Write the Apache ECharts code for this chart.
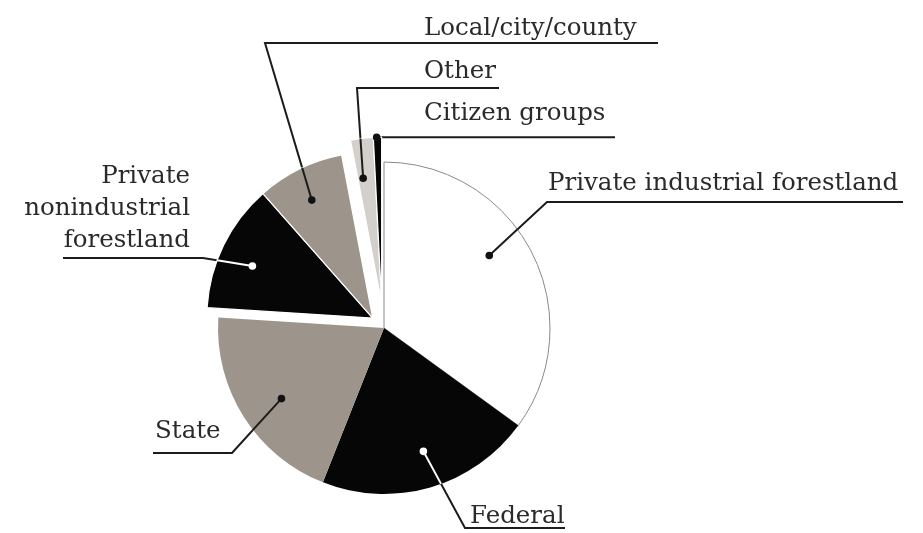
<!DOCTYPE html>
<html>
<head>
<meta charset="utf-8">
<script src="https://cdn.jsdelivr.net/npm/echarts@6/dist/echarts.min.js"></script>
<style>
  html, body { margin: 0; padding: 0; background: #ffffff; }
  #chart { width: 923px; height: 533px; }
</style>
</head>
<body>
<div id="chart"></div>
<script>
// Ownership shares (percent), listed clockwise from 12 o'clock
const categories = [
  'Private industrial forestland',
  'Federal',
  'State',
  'Private nonindustrial forestland',
  'Local/city/county',
  'Other',
  'Citizen groups'
];
const shares = [35, 21, 20, 12.5, 8.5, 2.2, 0.8];
const labelTexts = [
  'Private industrial forestland',
  'Federal',
  'State',
  'Private\nnonindustrial\nforestland',
  'Local/city/county',
  'Other',
  'Citizen groups'
];

// ---- styling ----
const sliceColors = ['#ffffff', '#060606', '#9d958b', '#060606', '#9d958b', '#d3cfca', '#060606'];
const darkSlice   = [false, true, false, true, false, false, false];   // leader starts with a white dot
const explodeGroup = [0, 0, 0, 1, 1, 2, 2];   // slices pulled out together
const groupOffset  = [0, 15, 25];             // px pulled out along the group's mid-angle

const CX = 384, CY = 328, R = 166;
const FONT = 'DejaVu Serif';
const FONT_SIZE = 24.5;
const INK = '#1c1c1c';

// leader dot inside each slice: [fraction of the slice's sweep, fraction of radius]
const dotPlace = [[0.44, 0.77], [0.48, 0.78], [0.47, 0.75], [0.44, 0.79], [0.46, 0.80], [0.30, 0.76], [0.40, 1.0]];
// text anchor: [x, y (middle), align]
const labelPlace = [
  [548, 184, 'left'],
  [470, 517, 'left'],
  [155, 432, 'left'],
  [190, 209, 'right'],
  [424, 29, 'left'],
  [424, 72, 'left'],
  [424, 114, 'left']
];
// leader path after the dot (null keeps the previous coordinate)
const leaderPath = [
  [[547, 202], [903, 202]],
  [[465, 528], [565, 528]],
  [[232, 453], [153, 453]],
  [[203, 258], [63, 258]],
  [[265, 43], [658, 43]],
  [[357, 88], [499, 88]],
  [[615, null]]
];

// ---- geometry derived from the shares ----
const total = shares.reduce((a, b) => a + b, 0);
const startDeg = [], endDeg = [];
let acc = 0;
shares.forEach(v => { startDeg.push(acc / total * 360); acc += v; endDeg.push(acc / total * 360); });

function polar(c, r, deg) {
  const a = deg * Math.PI / 180;
  return [c[0] + r * Math.sin(a), c[1] - r * Math.cos(a)];
}
function groupCenter(g) {
  if (!groupOffset[g]) return [CX, CY];
  const idx = categories.map((_, i) => i).filter(i => explodeGroup[i] === g);
  const mid = (Math.min(...idx.map(i => startDeg[i])) + Math.max(...idx.map(i => endDeg[i]))) / 2;
  return polar([CX, CY], groupOffset[g], mid);
}
const groups = [...new Set(explodeGroup)];
const centers = groups.map(groupCenter);
const dots = categories.map((_, i) => {
  const c = centers[explodeGroup[i]];
  const deg = startDeg[i] + dotPlace[i][0] * (endDeg[i] - startDeg[i]);
  return polar(c, R * dotPlace[i][1], deg);
});
const leaders = categories.map((_, i) => {
  const pts = [dots[i]];
  leaderPath[i].forEach(p => {
    const prev = pts[pts.length - 1];
    pts.push([p[0] == null ? prev[0] : p[0], p[1] == null ? prev[1] : p[1]]);
  });
  while (pts.length < 3) pts.push(pts[pts.length - 1].slice());
  return pts;
});

// where a leader leaves its slice; the part inside is redrawn above the slice
function exitPoint(i) {
  const c = centers[explodeGroup[i]];
  const p = leaders[i][0], q = leaders[i][1];
  const dx = q[0] - p[0], dy = q[1] - p[1];
  const fx = p[0] - c[0], fy = p[1] - c[1];
  const a = dx * dx + dy * dy, b = 2 * (fx * dx + fy * dy), cc = fx * fx + fy * fy - R * R;
  const disc = b * b - 4 * a * cc;
  if (a === 0 || disc < 0 || cc >= 0) return null;
  const t = (-b + Math.sqrt(disc)) / (2 * a);
  return [p[0] + t * dx, p[1] + t * dy];
}

const graphicEls = [];
categories.forEach((_, i) => {
  const e = exitPoint(i);
  if (e) {
    graphicEls.push({
      type: 'line', z: 100, silent: true,
      shape: { x1: dots[i][0], y1: dots[i][1], x2: e[0], y2: e[1] },
      style: { stroke: darkSlice[i] ? '#ffffff' : INK, lineWidth: 2 }
    });
  }
  graphicEls.push({
    type: 'circle', z: 101, silent: true,
    shape: { cx: dots[i][0], cy: dots[i][1], r: 3.8 },
    style: { fill: darkSlice[i] ? '#ffffff' : '#111111' }
  });
});

const series = groups.map(g => ({
  type: 'pie',
  center: centers[g],
  radius: R,
  startAngle: 90,
  clockwise: true,
  avoidLabelOverlap: false,
  silent: true,
  animation: false,
  emphasis: { disabled: true },
  data: categories.map((name, i) => {
    const mine = explodeGroup[i] === g;
    return {
      name,
      value: shares[i],
      itemStyle: mine
        ? {
            color: sliceColors[i],
            borderColor: i === 0 ? '#8a8a8a' : '#ffffff',
            borderWidth: i === 0 ? 1 : (g === 0 ? 0 : 1.2)
          }
        : { color: 'rgba(0,0,0,0)', borderWidth: 0 },
      label: { show: mine },
      labelLine: { show: mine }
    };
  }),
  label: {
    position: 'outside',
    formatter: p => labelTexts[p.dataIndex],
    fontFamily: FONT,
    fontSize: FONT_SIZE,
    lineHeight: 32,
    color: '#2a2a2a'
  },
  labelLine: {
    show: true,
    smooth: false,
    lineStyle: { color: INK, width: 2 }
  },
  labelLayout: p => {
    const i = p.dataIndex;
    const lp = labelPlace[i];
    return {
      x: lp[0], y: lp[1], align: lp[2], verticalAlign: 'middle',
      labelLinePoints: leaders[i]
    };
  }
}));

const chart = echarts.init(document.getElementById('chart'), null, { renderer: 'canvas' });
chart.setOption({
  backgroundColor: '#ffffff',
  animation: false,
  series,
  graphic: { elements: graphicEls }
});
</script>
</body>
</html>
